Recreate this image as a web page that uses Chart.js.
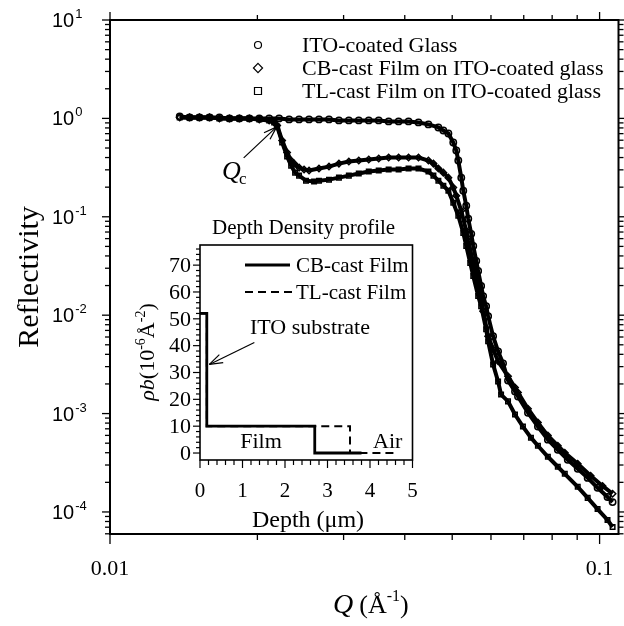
<!DOCTYPE html>
<html><head><meta charset="utf-8">
<script src="https://cdn.jsdelivr.net/npm/chart.js@4.4.0/dist/chart.umd.min.js"></script>
<style>
html,body{margin:0;padding:0;background:#fff;}
#wrap{position:relative;width:624px;height:626px;overflow:hidden;}
canvas{position:absolute;left:0;top:0;}
</style></head><body>
<div id="wrap"><canvas id="main" width="624" height="626"></canvas><canvas id="inset" width="624" height="626"></canvas></div>
<script>
// ---------- DATA ----------
const seriesNames = ['ITO-coated Glass', 'CB-cast Film on ITO-coated glass', 'TL-cast Film on ITO-coated glass'];
const qIto = [.01388,.01454,.01523,.01597,.01673,.01754,.01837,.01926,.02018,.02114,.02215,.02322,.02433,.0255,.02672,.02801,.02935,.03075,.03222,.03377,.03539,.03708,.03886,.04072,.04267,.04471,.04685,.04796,.04911,.05025,.05097,.05145,.05218,.05267,.05341,.05392,.05468,.0552,.05598,.05649,.05729,.05783,.05865,.0592,.0606,.06204,.06351,.06501,.06718,.06813,.0714,.07482,.07841,.08216,.0861,.09023,.09455,.09906,.1038,.1063];
const rIto = [1.048,1.024,1.024,1.024,1.024,1.0,1.0,1.0,1.0,1.0,1.0,0.977,0.977,0.977,0.977,0.977,0.954,0.954,0.954,0.954,0.954,0.932,0.932,0.932,0.910,0.869,0.809,0.754,0.703,0.569,0.471,0.373,0.250,0.184,0.1295,0.0954,0.0671,0.0506,0.0356,0.0281,0.0198,0.01563,0.01235,0.00977,0.00611,0.00429,0.00324,0.00217,0.00168,0.00149,0.00102,0.000737,0.000543,0.000429,0.000339,0.000275,0.000222,0.000176,0.000142,0.000126];
const qCb = [.01388,.01454,.01523,.01597,.01673,.01754,.01837,.01926,.02018,.02114,.02164,.02195,.02247,.0230,.02344,.02377,.02433,.02491,.0255,.02672,.02801,.02935,.03075,.03222,.03377,.03539,.03708,.03886,.04072,.04267,.04471,.04577,.04685,.04796,.04911,.05025,.05097,.05218,.05341,.05392,.0552,.05598,.05729,.05783,.0592,.0606,.06204,.06501,.06718,.06813,.0714,.07482,.07841,.08216,.0849,.09023,.09587,.1014,.1063];
const rCb = [1.024,1.024,1.024,1.024,1.0,1.0,1.0,1.0,0.977,0.954,0.910,0.848,0.596,0.450,0.373,0.347,0.316,0.302,0.295,0.309,0.3236,0.347,0.364,0.373,0.382,0.391,0.400,0.400,0.400,0.400,0.373,0.347,0.309,0.281,0.250,0.198,0.164,0.1151,0.0720,0.0569,0.0339,0.0250,0.0149,0.01099,0.00611,0.00450,0.00340,0.00239,0.00184,0.00164,0.00112,0.000809,0.000597,0.000471,0.000400,0.000309,0.000233,0.000184,0.000153];
const qTl = [.01388,.01454,.01523,.01597,.01673,.01754,.01837,.01926,.02018,.02114,.02164,.02195,.02247,.0230,.02344,.02388,.02433,.02514,.02611,.02672,.02801,.02935,.03075,.03222,.03377,.03539,.03708,.03886,.04072,.04267,.04471,.04577,.04685,.04796,.04911,.05025,.05145,.05267,.05341,.05442,.0552,.05649,.05729,.05865,.0592,.0606,.06204,.06292,.06501,.06718,.06973,.07241,.07482,.07841,.08216,.0849,.09023,.09455,.09906,.1038,.1063];
const rTl = [1.024,1.024,1.024,1.024,1.0,1.0,1.0,1.0,0.977,0.954,0.910,0.829,0.569,0.410,0.331,0.281,0.262,0.233,0.228,0.233,0.2385,0.250,0.262,0.275,0.288,0.295,0.302,0.302,0.309,0.309,0.288,0.262,0.233,0.207,0.184,0.139,0.1024,0.0686,0.0506,0.0339,0.0250,0.01563,0.01235,0.00720,0.00543,0.00316,0.00212,0.00156,0.00133,0.000977,0.000737,0.000569,0.000471,0.000364,0.000288,0.000244,0.000180,0.000139,0.000107,0.0000828,0.0000703];
const xRange = [0.01, 0.1093];
const yRange = [5.97e-5, 10];
const xTickValues = [0.01, 0.1];
const xTickLabels = ['0.01', '0.1'];
const yTickExponents = [1, 0, -1, -2, -3, -4];
const qcPoint = {q: 0.0219, r: 0.82};

// inset profile data
const insetNames = ['CB-cast Film', 'TL-cast Film'];
const depthCb = [0, 0.16, 0.16, 2.7, 2.7, 3.8];
const rhoCb = [52, 52, 10, 10, 0, 0];
const depthTl = [0, 0.16, 0.16, 2.7, 3.53, 3.53, 4.6];
const rhoTl = [52, 52, 10, 10, 10, 0, 0];
const insetXRange = [0, 5];
const insetYRange = [-2.6, 77.5];
const insetXTicks = [0, 1, 2, 3, 4, 5];
const insetYTicks = [0, 10, 20, 30, 40, 50, 60, 70];
const itoArrowTip = {d: 0.22, rho: 33};

// ---------- HELPERS ----------
const SERIF = '"Liberation Serif","Times New Roman",serif';
const SANS = '"Liberation Sans",Arial,sans-serif';
const pts = (xs, ys) => xs.map((v, i) => ({x: v, y: ys[i]}));
function line(ctx, x1, y1, x2, y2) { ctx.beginPath(); ctx.moveTo(x1, y1); ctx.lineTo(x2, y2); ctx.stroke(); }
function arrow(ctx, x1, y1, x2, y2) {
  ctx.save(); ctx.lineWidth = 1.2; ctx.strokeStyle = '#000';
  line(ctx, x1, y1, x2, y2);
  const ang = Math.atan2(y2 - y1, x2 - x1), L = 14;
  for (const s of [-1, 1]) {
    const a = ang + Math.PI + s * 0.32;
    line(ctx, x2, y2, x2 + L * Math.cos(a), y2 + L * Math.sin(a));
  }
  ctx.restore();
}
function marker(ctx, style, x, y, r) {
  ctx.beginPath();
  if (style === 'circle') ctx.arc(x, y, r, 0, Math.PI * 2);
  else if (style === 'rect') ctx.rect(x - r, y - r, 2 * r, 2 * r);
  else { ctx.moveTo(x, y - r * 1.3); ctx.lineTo(x + r * 1.3, y); ctx.lineTo(x, y + r * 1.3); ctx.lineTo(x - r * 1.3, y); ctx.closePath(); }
  ctx.stroke();
}
const styles = ['circle', 'rectRot', 'rect'];

// ---------- MAIN CHART ----------
const mainDecor = {
  id: 'mainDecor',
  afterDraw(chart) {
    const {ctx, chartArea: a} = chart; const xs = chart.scales.x, ys = chart.scales.y;
    ctx.save();
    ctx.strokeStyle = '#000'; ctx.fillStyle = '#000';
    ctx.lineWidth = 2;
    ctx.strokeRect(a.left, a.top, a.right - a.left, a.bottom - a.top);
    ctx.lineWidth = 1.3;
    for (let e = -5; e <= 1; e++) for (let m = 1; m <= 9; m++) {
      const v = m * Math.pow(10, e);
      if (v < yRange[0] || v > yRange[1] * 1.0001) continue;
      const p = ys.getPixelForValue(v); const L = m === 1 ? 8 : 5;
      line(ctx, a.left - L, p, a.left, p);
      line(ctx, a.right, p, a.right + L, p);
    }
    for (let e = -2; e <= -1; e++) for (let m = 1; m <= 9; m++) {
      const v = m * Math.pow(10, e);
      if (v < xRange[0] * 0.9999 || v > xRange[1]) continue;
      const p = xs.getPixelForValue(v); const isMaj = m === 1;
      line(ctx, p, a.bottom, p, a.bottom + (isMaj ? 10 : 6));
      line(ctx, p, a.top - (isMaj ? 8 : 5), p, a.top);
    }
    ctx.textBaseline = 'alphabetic'; ctx.textAlign = 'left';
    for (const e of yTickExponents) {
      const p = ys.getPixelForValue(Math.pow(10, e));
      ctx.font = '20px ' + SANS;
      ctx.fillText('10', 52, p + 7);
      const w = ctx.measureText('10').width;
      ctx.font = '13px ' + SANS;
      ctx.fillText(e < 0 ? '-' + Math.abs(e) : String(e), 52 + w + 1, p - 2);
    }
    ctx.font = '22px ' + SERIF; ctx.textAlign = 'center';
    xTickValues.forEach((v, i) => ctx.fillText(xTickLabels[i], xs.getPixelForValue(v), 575));
    ctx.textAlign = 'left';
    let tx = 333;
    ctx.font = 'italic 28px ' + SERIF; ctx.fillText('Q', tx, 613); tx += ctx.measureText('Q').width + 6;
    ctx.font = '26px ' + SERIF; ctx.fillText('(Å', tx, 613); tx += ctx.measureText('(Å').width;
    ctx.font = '16px ' + SERIF; ctx.fillText('-1', tx, 601); tx += ctx.measureText('-1').width;
    ctx.font = '26px ' + SERIF; ctx.fillText(')', tx, 613);
    ctx.save(); ctx.translate(38, (a.top + a.bottom) / 2); ctx.rotate(-Math.PI / 2);
    ctx.font = '30px ' + SERIF; ctx.textAlign = 'center'; ctx.fillText('Reflectivity', 0, 0);
    ctx.restore();
    ctx.font = '22px ' + SERIF; ctx.textAlign = 'left'; ctx.textBaseline = 'middle';
    ctx.lineWidth = 1.2;
    seriesNames.forEach((n, i) => {
      const yy = 45 + i * 23;
      marker(ctx, styles[i], 258, yy, 3.5);
      ctx.fillText(n, 302, yy + 1);
    });
    const qx = xs.getPixelForValue(qcPoint.q), qy = ys.getPixelForValue(qcPoint.r);
    arrow(ctx, qx - 33, qy + 31, qx, qy);
    ctx.textBaseline = 'alphabetic';
    ctx.font = 'italic 26px ' + SERIF; ctx.fillText('Q', 222, 179);
    ctx.font = '17px ' + SERIF; ctx.fillText('c', 239, 184);
    ctx.restore();
  }
};
const mk = (i, q, r) => ({
  label: seriesNames[i], data: pts(q, r), showLine: true,
  borderColor: '#000', borderWidth: 4, backgroundColor: 'rgba(0,0,0,0)',
  pointStyle: styles[i], pointRadius: 3.2, pointBorderWidth: 1.5,
  pointBorderColor: '#000', pointBackgroundColor: 'rgba(0,0,0,0)', tension: 0
});
new Chart(document.getElementById('main'), {
  type: 'scatter',
  data: {datasets: [mk(0, qIto, rIto), mk(1, qCb, rCb), mk(2, qTl, rTl)]},
  options: {
    responsive: false, animation: false, devicePixelRatio: 1,
    layout: {padding: {left: 110, right: 3, top: 20, bottom: 92}},
    plugins: {legend: {display: false}, tooltip: {enabled: false}},
    scales: {
      x: {type: 'logarithmic', min: xRange[0], max: xRange[1], display: false},
      y: {type: 'logarithmic', min: yRange[0], max: yRange[1], display: false}
    }
  },
  plugins: [mainDecor]
});

// ---------- INSET CHART ----------
const insetDecor = {
  id: 'insetDecor',
  beforeDatasetsDraw(chart) {
    const {ctx, chartArea: a} = chart;
    ctx.save(); ctx.fillStyle = '#fff'; ctx.fillRect(a.left, a.top, a.right - a.left, a.bottom - a.top); ctx.restore();
  },
  afterDraw(chart) {
    const {ctx, chartArea: a} = chart; const xs = chart.scales.x, ys = chart.scales.y;
    ctx.save(); ctx.strokeStyle = '#000'; ctx.fillStyle = '#000';
    ctx.lineWidth = 1.6;
    ctx.strokeRect(a.left, a.top, a.right - a.left, a.bottom - a.top);
    ctx.lineWidth = 1.2;
    for (let v = 0; v <= 76; v += 2) {
      const p = ys.getPixelForValue(v); const L = v % 10 === 0 ? 7 : 4;
      line(ctx, a.left - L, p, a.left, p);
    }
    for (let k = 0; k <= 25; k++) {
      const v = k * 0.2; const p = xs.getPixelForValue(v); const L = k % 5 === 0 ? 8 : 5;
      line(ctx, p, a.bottom, p, a.bottom + L);
    }
    ctx.font = '22px ' + SERIF; ctx.textBaseline = 'middle';
    ctx.textAlign = 'right';
    insetYTicks.forEach(v => ctx.fillText(String(v), 191, ys.getPixelForValue(v) + 1));
    ctx.font = '21px ' + SERIF;
    ctx.textAlign = 'center';
    insetXTicks.forEach(v => ctx.fillText(String(v), xs.getPixelForValue(v), 491));
    ctx.font = '24px ' + SERIF; ctx.fillText('Depth (μm)', 308, 521);
    ctx.textAlign = 'left';
    ctx.font = '21px ' + SERIF; ctx.fillText('Depth Density profile', 212, 228);
    ctx.lineWidth = 3; line(ctx, 245, 265, 290, 265);
    ctx.lineWidth = 2; ctx.setLineDash([8, 5]); line(ctx, 245, 292, 292, 292); ctx.setLineDash([]);
    ctx.font = '21px ' + SERIF;
    ctx.fillText(insetNames[0], 296, 266); ctx.fillText(insetNames[1], 296, 293);
    ctx.font = '22px ' + SERIF;
    ctx.fillText('ITO substrate', 250, 328);
    const ax = xs.getPixelForValue(itoArrowTip.d), ay = ys.getPixelForValue(itoArrowTip.rho);
    arrow(ctx, ax + 45, ay - 22, ax, ay);
    ctx.textAlign = 'center'; ctx.fillText('Film', 261, 442);
    ctx.textAlign = 'left'; ctx.fillText('Air', 373, 442);
    ctx.save(); ctx.translate(146, 352); ctx.rotate(-Math.PI / 2);
    const parts = [['italic 22px ', 'ρb', 0], ['22px ', '(10', 0], ['14px ', '-6', -9], ['22px ', 'Å', 0], ['14px ', '-2', -9], ['22px ', ')', 0]];
    let tw = 0; parts.forEach(p => { ctx.font = p[0] + SERIF; tw += ctx.measureText(p[1]).width; });
    let tx = -tw / 2; ctx.textBaseline = 'alphabetic';
    parts.forEach(p => { ctx.font = p[0] + SERIF; ctx.fillText(p[1], tx, 8 + p[2]); tx += ctx.measureText(p[1]).width; });
    ctx.restore();
    ctx.restore();
  }
};
new Chart(document.getElementById('inset'), {
  type: 'scatter',
  data: {datasets: [
    {label: insetNames[0], data: pts(depthCb, rhoCb), showLine: true, borderColor: '#000', borderWidth: 2.8, pointRadius: 0, order: 0},
    {label: insetNames[1], data: pts(depthTl, rhoTl), showLine: true, borderColor: '#000', borderWidth: 2, borderDash: [8, 5], pointRadius: 0, order: 1}
  ]},
  options: {
    responsive: false, animation: false, devicePixelRatio: 1,
    layout: {padding: {left: 200, right: 211.5, top: 245, bottom: 166}},
    plugins: {legend: {display: false}, tooltip: {enabled: false}},
    scales: {
      x: {type: 'linear', min: insetXRange[0], max: insetXRange[1], display: false},
      y: {type: 'linear', min: insetYRange[0], max: insetYRange[1], display: false}
    }
  },
  plugins: [insetDecor]
});
</script>
</body></html>
